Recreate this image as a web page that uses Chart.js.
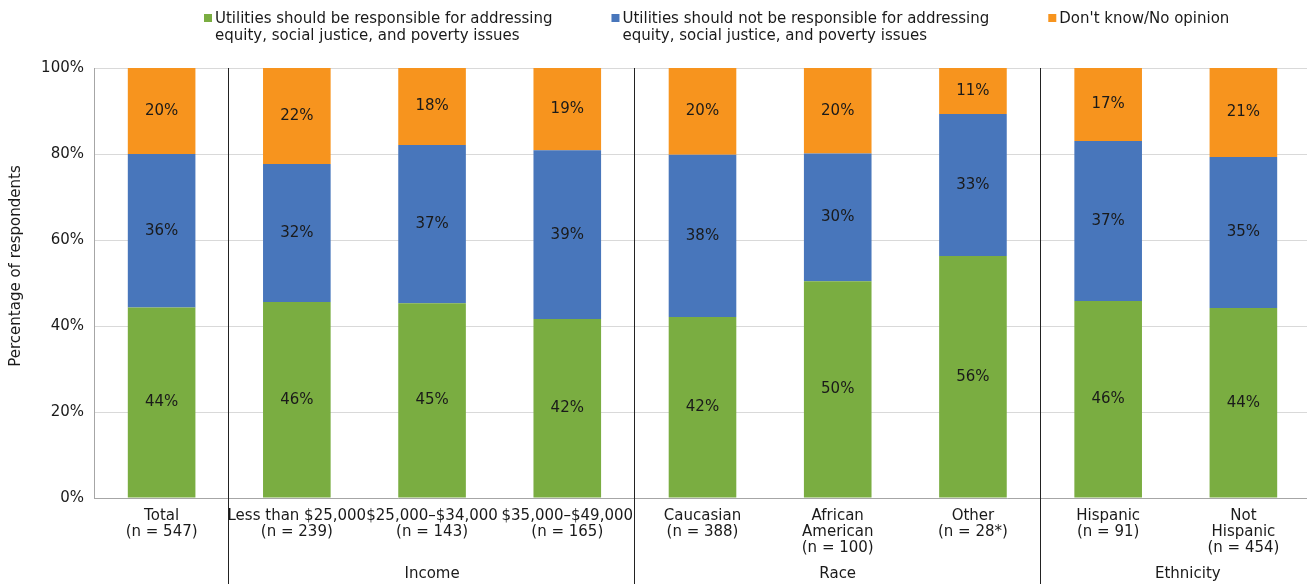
<!DOCTYPE html>
<html><head><meta charset="utf-8">
<script src="https://cdn.jsdelivr.net/npm/chart.js@4/dist/chart.umd.min.js"></script>
<style>html,body{margin:0;padding:0;background:#fff;overflow:hidden}#wrap{width:1307px;height:584px;position:relative;overflow:hidden}</style>
</head><body><div id="wrap"><canvas id="c" width="1311" height="584" style="width:1311px;height:584px"></canvas></div>
<script>
const categories = [["Total","(n = 547)"],["Less than $25,000","(n = 239)"],["$25,000\u2013$34,000","(n = 143)"],["$35,000\u2013$49,000","(n = 165)"],["Caucasian","(n = 388)"],["African","American","(n = 100)"],["Other","(n = 28*)"],["Hispanic","(n = 91)"],["Not","Hispanic","(n = 454)"]];
const responsible    = [44.3, 45.6, 45.3, 41.6, 42.1, 50.4, 56.3, 45.8, 44.2];
const notResponsible = [35.7, 32.1, 36.8, 39.3, 37.7, 29.7, 33.0, 37.2, 35.1];
const dontKnow       = [20.0, 22.3, 17.9, 19.1, 20.2, 19.9, 10.7, 17.0, 20.7];
const seriesNames = [
  ["Utilities should be responsible for addressing","equity, social justice, and poverty issues"],
  ["Utilities should not be responsible for addressing","equity, social justice, and poverty issues"],
  ["Don't know/No opinion"]
];
const seriesColors = ["#7aad41","#4876bb","#f7941e"];
const groups = [{label:"Income",from:1,to:3},{label:"Race",from:4,to:6},{label:"Ethnicity",from:7,to:8}];
const separatorsAfter = [0,3,6];
const yMin = 0, yMax = 100, yStep = 20;
const yTitle = "Percentage of respondents";

const FONT = "'DejaVu Sans', sans-serif";
const TXT = "#1a1a1a";
Chart.defaults.font.family = FONT;
Chart.defaults.font.size = 15;
Chart.defaults.color = TXT;

const extras = {
  id:'extras',
  afterDatasetsDraw(chart){
    const ctx = chart.ctx, ca = chart.chartArea, xs = chart.scales.x;
    ctx.save();
    ctx.font = "15px " + FONT; ctx.fillStyle = TXT; ctx.textAlign='center'; ctx.textBaseline='middle';
    chart.data.datasets.forEach((ds,di)=>{
      const meta = chart.getDatasetMeta(di);
      meta.data.forEach((bar,i)=>{
        const y = (bar.y + bar.base)/2;
        ctx.fillText(Math.round(ds.data[i]) + '%', bar.x, y);
      });
    });
    ctx.strokeStyle = "#222"; ctx.lineWidth = 1;
    separatorsAfter.forEach(i=>{
      const x = Math.round((xs.getPixelForValue(i)+xs.getPixelForValue(i+1))/2)-0.5;
      ctx.beginPath(); ctx.moveTo(x, ca.top); ctx.lineTo(x, chart.height); ctx.stroke();
    });
    groups.forEach((g)=>{
      const left = (xs.getPixelForValue(g.from-1)+xs.getPixelForValue(g.from))/2;
      const right = g.to+1 < categories.length ? (xs.getPixelForValue(g.to)+xs.getPixelForValue(g.to+1))/2 : ca.right + 24;
      ctx.fillText(g.label, (left+right)/2, chart.height - 10);
    });
    ctx.save();
    ctx.translate(16, (ca.top+ca.bottom)/2 - 17);
    ctx.rotate(-Math.PI/2);
    ctx.fillText(yTitle, 0, 0);
    ctx.restore();
    ctx.textAlign='left'; ctx.textBaseline='middle';
    let x = 204; const gap = 59;
    seriesNames.forEach((lines,si)=>{
      ctx.fillStyle = seriesColors[si];
      ctx.fillRect(x, 14, 8, 8);
      ctx.fillStyle = TXT;
      let w = 0;
      lines.forEach((ln,li)=>{ ctx.fillText(ln, x+11, 19 + li*17); w = Math.max(w, ctx.measureText(ln).width); });
      x += 11 + w + gap;
    });
    ctx.restore();
  }
};

new Chart(document.getElementById('c'), {
  type:'bar',
  data:{
    labels: categories,
    datasets:[
      {label:seriesNames[0].join(' '), data:responsible, backgroundColor:seriesColors[0]},
      {label:seriesNames[1].join(' '), data:notResponsible, backgroundColor:seriesColors[1]},
      {label:seriesNames[2].join(' '), data:dontKnow, backgroundColor:seriesColors[2]}
    ]
  },
  options:{
    responsive:false, maintainAspectRatio:false, animation:false, devicePixelRatio:1,
    layout:{padding:{top:68,left:0,right:0,bottom:0}},
    datasets:{bar:{categoryPercentage:1, barPercentage:0.5, borderWidth:0}},
    plugins:{legend:{display:false}, tooltip:{enabled:false}},
    scales:{
      x:{stacked:true,
         grid:{display:false, drawTicks:false},
         border:{display:true,color:'#a6a6a6'},
         ticks:{autoSkip:false,maxRotation:0,minRotation:0,padding:10,font:{size:15,lineHeight:1.07},color:TXT},
         afterFit(s){ s.height = 86; }},
      y:{stacked:true,min:yMin,max:yMax,
         grid:{color:'#d9d9d9',drawTicks:false},
         border:{display:true,color:'#a6a6a6'},
         ticks:{stepSize:yStep,padding:10,callback:v=>v+'%',color:TXT,font:{size:15}},
         afterFit(s){ s.width = 94; }}
    }
  },
  plugins:[extras]
});
</script></body></html>
